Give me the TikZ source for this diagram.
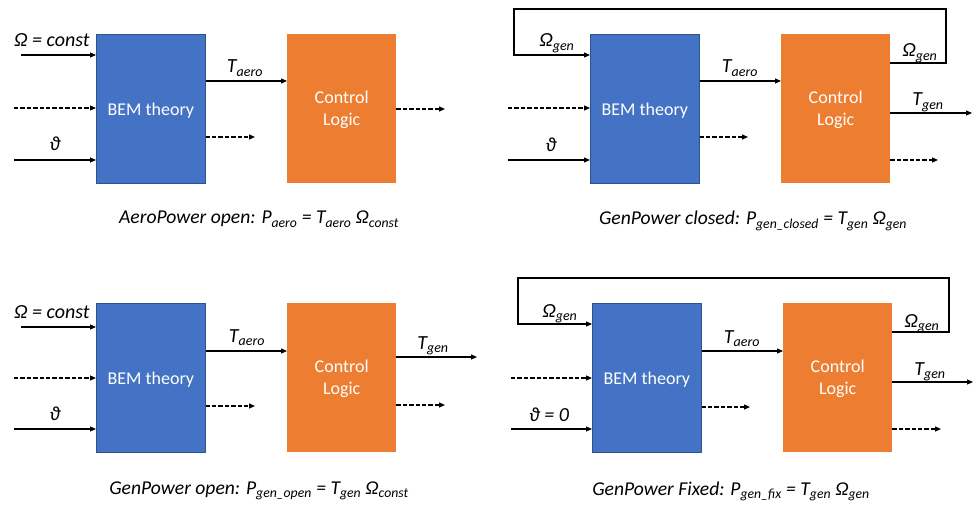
\documentclass[tikz,border=0pt]{standalone}
\usepackage{fontspec}
\setmainfont{Carlito}
\usetikzlibrary{arrows.meta}
\definecolor{bemblue}{HTML}{4472C4}
\definecolor{bemedge}{HTML}{2F528F}
\definecolor{ctrlorange}{HTML}{ED7D31}
\newcommand{\idx}[1]{\textsubscript{#1}}
\newcommand{\bigfont}{\fontsize{18}{21.6}\selectfont}
\newcommand{\lblfont}{\fontsize{20}{24}\selectfont}
\newcommand{\capfont}{\fontsize{19.6}{23}\selectfont}
\tikzset{
  block/.style={minimum width=109pt,minimum height=149pt,anchor=north west,
    text=white,align=center,inner sep=0pt,text depth=0pt,font=\bigfont},
  bemblock/.style={block,fill=bemblue,draw=bemedge,line width=0.6pt},
  ctrlblock/.style={block,fill=ctrlorange},
  signal/.style={line width=1.1pt,-{Triangle[length=6pt,width=5pt]}},
  aux/.style={signal,line width=1.2pt,dash pattern=on 4.3pt off 2.1pt},
  lbl/.style={font=\lblfont\itshape,inner sep=0pt,anchor=base},
  caption/.style={font=\capfont\itshape,inner sep=0pt,anchor=base},
}
\begin{document}
\begin{tikzpicture}[x=1pt,y=-1pt]
  \useasboundingbox (0,0) rectangle (975,505);
  % AeroPower open
  \node [bemblock] (bem1) at (96,34) {BEM theory};
  \node [ctrlblock] (ctrl1) at (287,34) {Control\\[0.5pt]Logic};
  \coordinate (om1) at (21,55);
  \coordinate (dash1) at (14,108);
  \coordinate (th1) at (14,160);
  \coordinate (ta1) at (0,81);
  \coordinate (bout1) at (255,137);
  \coordinate (cout1) at (445,109);
  \draw [signal] (om1) -- (om1 -| bem1.west);
  \draw [aux] (dash1) -- (dash1 -| bem1.west);
  \draw [signal] (th1) -- (th1 -| bem1.west);
  \draw [signal] (ta1 -| bem1.east) -- (ta1 -| ctrl1.west);
  \draw [aux] (bout1 -| bem1.east) -- (bout1);
  \draw [aux] (cout1 -| ctrl1.east) -- (cout1);
  \node [lbl] (omlbl1) at (52,47) {Ω = const};
  \node [lbl] (thlbl1) at (55,151) {ϑ};
  \node [lbl] (talbl1) at (245,73) {T\idx{aero}};
  \node [caption] (cap1) at (259,224) {AeroPower open: P\idx{aero} = T\idx{aero} Ω\idx{const}};

  % GenPower closed
  \node [bemblock] (bem2) at (590,34) {BEM theory};
  \node [ctrlblock] (ctrl2) at (781,34) {Control\\[0.5pt]Logic};
  \coordinate (fbout2) at (0,63);
  \coordinate (fbtop2) at (946,9);
  \coordinate (fbin2) at (514,55);
  \coordinate (dash2) at (508,108);
  \coordinate (th2) at (508,160);
  \coordinate (ta2) at (0,81);
  \coordinate (bout2) at (748,137);
  \coordinate (tg2) at (972,113);
  \coordinate (cout2) at (938,160);
  \draw [signal] (fbout2 -| ctrl2.east) -| (fbtop2) -| (fbin2) -- (fbin2 -| bem2.west);
  \draw [aux] (dash2) -- (dash2 -| bem2.west);
  \draw [signal] (th2) -- (th2 -| bem2.west);
  \draw [signal] (ta2 -| bem2.east) -- (ta2 -| ctrl2.west);
  \draw [aux] (bout2 -| bem2.east) -- (bout2);
  \draw [signal] (tg2 -| ctrl2.east) -- (tg2);
  \draw [aux] (cout2 -| ctrl2.east) -- (cout2);
  \node [lbl] (omlbl2) at (557,47) {Ω\idx{gen}};
  \node [lbl] (fblbl2) at (920,57) {Ω\idx{gen}};
  \node [lbl] (thlbl2) at (551,152) {ϑ};
  \node [lbl] (talbl2) at (740,73) {T\idx{aero}};
  \node [lbl] (tglbl2) at (928,106) {T\idx{gen}};
  \node [caption] (cap2) at (753,225) {GenPower closed: P\idx{gen\_closed} = T\idx{gen} Ω\idx{gen}};

  % GenPower open
  \node [bemblock] (bem3) at (96,303) {BEM theory};
  \node [ctrlblock] (ctrl3) at (287,303) {Control\\[0.5pt]Logic};
  \coordinate (om3) at (21,327);
  \coordinate (dash3) at (14,378);
  \coordinate (th3) at (14,429);
  \coordinate (ta3) at (0,351);
  \coordinate (bout3) at (255,406);
  \coordinate (tg3) at (477,357);
  \coordinate (cout3) at (445,405);
  \draw [signal] (om3) -- (om3 -| bem3.west);
  \draw [aux] (dash3) -- (dash3 -| bem3.west);
  \draw [signal] (th3) -- (th3 -| bem3.west);
  \draw [signal] (ta3 -| bem3.east) -- (ta3 -| ctrl3.west);
  \draw [aux] (bout3 -| bem3.east) -- (bout3);
  \draw [signal] (tg3 -| ctrl3.east) -- (tg3);
  \draw [aux] (cout3 -| ctrl3.east) -- (cout3);
  \node [lbl] (omlbl3) at (52,318) {Ω = const};
  \node [lbl] (thlbl3) at (55,420) {ϑ};
  \node [lbl] (talbl3) at (247,342) {T\idx{aero}};
  \node [lbl] (tglbl3) at (433,349) {T\idx{gen}};
  \node [caption] (cap3) at (259,494) {GenPower open: P\idx{gen\_open} = T\idx{gen} Ω\idx{const}};

  % GenPower Fixed
  \node [bemblock] (bem4) at (592,303) {BEM theory};
  \node [ctrlblock] (ctrl4) at (783,303) {Control\\[0.5pt]Logic};
  \coordinate (fbout4) at (0,332);
  \coordinate (fbtop4) at (949,278);
  \coordinate (fbin4) at (518,324);
  \coordinate (dash4) at (511,378);
  \coordinate (th4) at (511,429);
  \coordinate (ta4) at (0,351);
  \coordinate (bout4) at (750,407);
  \coordinate (tg4) at (973,382);
  \coordinate (cout4) at (941,429);
  \draw [signal] (fbout4 -| ctrl4.east) -| (fbtop4) -| (fbin4) -- (fbin4 -| bem4.west);
  \draw [aux] (dash4) -- (dash4 -| bem4.west);
  \draw [signal] (th4) -- (th4 -| bem4.west);
  \draw [signal] (ta4 -| bem4.east) -- (ta4 -| ctrl4.west);
  \draw [aux] (bout4 -| bem4.east) -- (bout4);
  \draw [signal] (tg4 -| ctrl4.east) -- (tg4);
  \draw [aux] (cout4 -| ctrl4.east) -- (cout4);
  \node [lbl] (omlbl4) at (560,317) {Ω\idx{gen}};
  \node [lbl] (fblbl4) at (922,327) {Ω\idx{gen}};
  \node [lbl] (thlbl4) at (549,421) {ϑ = 0};
  \node [lbl] (talbl4) at (742,343) {T\idx{aero}};
  \node [lbl] (tglbl4) at (930,375) {T\idx{gen}};
  \node [caption] (cap4) at (731,495) {GenPower Fixed: P\idx{gen\_fix} = T\idx{gen} Ω\idx{gen}};
\end{tikzpicture}
\end{document}
